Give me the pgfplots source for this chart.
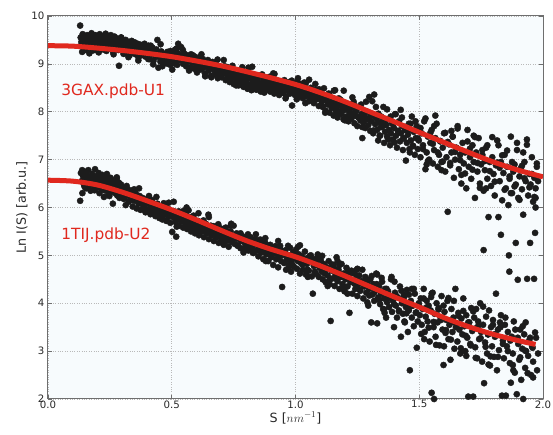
\documentclass[border=0pt]{standalone}
\usepackage{pgfplots}
\pgfplotsset{compat=1.18}
\usepackage{pgfplotstable}
\usepackage{fontspec}
\setmainfont{DejaVu Sans}
\definecolor{fitred}{RGB}{224,40,30}
\definecolor{dotc}{RGB}{28,28,28}
\definecolor{bgc}{RGB}{247,251,253}
\definecolor{gridc}{RGB}{185,185,185}
\definecolor{framec}{RGB}{110,110,110}
\definecolor{textc}{RGB}{40,40,40}

\pgfplotstableread{
x y
0.130 9.80
0.132 9.55
0.135 9.40
0.138 9.25
0.140 9.62
0.143 9.48
0.146 9.33
0.149 9.57
0.152 9.44
0.155 9.30
0.158 9.60
0.161 9.50
0.164 9.36
0.167 9.22
0.170 9.55
0.173 9.45
0.176 9.64
0.179 9.38
0.182 9.28
0.185 9.52
0.188 9.42
0.191 9.60
0.194 9.33
0.197 9.47
0.200 9.56
0.203 9.26
0.206 9.40
0.209 9.62
0.212 9.50
0.215 9.35
0.218 9.44
0.221 9.58
0.224 9.30
0.227 9.52
0.230 9.41
0.233 9.63
0.236 9.27
0.239 9.48
0.242 9.37
0.245 9.55
0.248 9.45
0.251 9.32
0.254 9.60
0.257 9.42
0.260 9.50
0.263 9.25
0.266 9.38
0.269 9.57
0.272 9.46
0.275 9.34
0.278 9.53
0.281 9.42
0.284 9.29
0.287 8.96
0.290 9.48
0.293 9.38
0.296 9.55
0.299 9.31
0.302 9.45
0.306 9.36
0.310 9.22
0.314 9.50
0.318 9.40
0.322 9.30
0.326 9.44
0.330 9.18
0.334 9.35
0.338 9.48
0.342 9.27
0.346 9.38
0.350 9.45
0.354 9.20
0.358 9.33
0.362 9.42
0.366 9.13
0.370 9.30
0.374 9.40
0.378 9.22
0.382 9.36
0.386 9.28
0.390 9.42
0.394 9.15
0.398 9.32
0.402 9.25
0.406 9.38
0.410 9.10
0.414 9.28
0.418 9.20
0.422 9.34
0.426 9.06
0.430 9.24
0.434 9.14
0.438 9.30
0.442 9.50
0.446 8.92
0.450 9.18
0.454 9.05
0.458 9.26
0.462 8.95
0.466 9.12
0.470 9.20
0.474 9.02
0.478 9.15
0.482 9.25
0.486 9.08
0.490 9.18
0.494 8.98
0.498 9.12
0.502 8.88
0.506 9.22
0.510 9.05
0.514 9.30
0.518 9.12
0.522 8.98
0.526 9.42
0.530 9.18
0.534 9.08
0.538 9.35
0.542 9.15
0.546 9.00
0.550 9.22
0.554 9.10
0.558 8.95
0.562 9.18
0.566 9.05
0.570 9.12
0.574 8.92
0.578 9.20
0.582 9.02
0.586 9.10
0.590 8.90
0.594 9.15
0.598 9.00
0.602 8.82
0.606 9.08
0.610 8.96
0.614 9.14
0.618 8.88
0.622 9.02
0.626 9.10
0.630 8.93
0.634 8.80
0.638 9.05
0.642 8.95
0.646 9.08
0.650 8.86
0.654 8.98
0.658 8.75
0.662 9.02
0.666 8.90
0.670 8.96
0.674 8.78
0.678 9.00
0.682 8.88
0.686 8.70
0.690 8.95
0.694 8.84
0.698 8.92
0.702 8.72
0.706 8.90
0.710 8.80
0.714 8.95
0.718 8.66
0.722 8.86
0.726 8.76
0.730 8.90
0.734 8.62
0.738 8.80
0.742 8.70
0.746 8.86
0.750 8.58
0.754 8.76
0.758 8.82
0.762 8.66
0.766 8.74
0.770 8.55
0.774 8.80
0.778 8.68
0.782 8.60
0.786 8.75
0.790 8.52
0.794 8.66
0.798 8.72
0.802 8.60
0.806 8.48
0.810 8.70
0.814 8.56
0.818 8.78
0.822 8.45
0.826 8.62
0.830 8.52
0.834 8.72
0.838 8.58
0.842 8.46
0.846 8.66
0.850 8.55
0.854 8.75
0.858 8.44
0.862 8.60
0.866 8.50
0.870 8.68
0.874 8.40
0.878 8.56
0.882 8.64
0.886 8.47
0.890 8.58
0.894 8.70
0.898 8.42
0.902 8.55
0.906 8.62
0.910 8.48
0.914 8.38
0.918 8.58
0.922 8.66
0.926 8.45
0.930 8.52
0.934 8.35
0.938 8.60
0.942 8.48
0.946 8.56
0.950 8.40
0.954 8.64
0.958 8.50
0.962 8.32
0.966 8.55
0.970 8.44
0.974 8.62
0.978 8.38
0.982 8.50
0.986 8.13
0.990 8.45
0.994 8.58
0.998 8.35
1.002 8.48
1.006 8.62
1.010 8.30
1.014 8.42
1.018 8.55
1.022 8.36
1.026 8.46
1.030 8.28
1.034 8.52
1.038 8.40
1.042 8.60
1.046 8.33
1.050 8.45
1.054 8.22
1.058 8.38
1.062 8.50
1.066 8.30
1.070 8.42
1.074 8.18
1.078 8.36
1.082 8.46
1.086 8.26
1.090 8.40
1.094 8.12
1.098 8.32
1.102 8.40
1.106 8.22
1.110 8.10
1.114 8.34
1.118 8.25
1.122 8.02
1.126 8.30
1.130 8.15
1.134 8.38
1.138 7.98
1.142 8.20
1.146 8.08
1.150 8.28
1.154 7.92
1.158 8.16
1.162 8.05
1.166 8.22
1.170 7.88
1.174 8.12
1.178 8.00
1.182 8.25
1.186 7.95
1.190 8.10
1.194 7.84
1.198 8.04
1.202 8.18
1.206 7.90
1.210 8.06
1.214 7.80
1.218 8.00
1.222 8.14
1.226 7.86
1.230 7.96
1.234 8.08
1.238 7.76
1.242 7.92
1.246 8.02
1.250 7.70
1.254 7.88
1.258 8.10
1.262 7.82
1.266 7.95
1.270 7.45
1.274 7.78
1.278 7.90
1.282 7.66
1.286 7.84
1.290 8.00
1.294 7.72
1.298 8.31
1.302 7.60
1.306 7.80
1.310 7.92
1.314 7.55
1.318 8.36
1.322 7.74
1.326 7.86
1.330 7.62
1.334 7.40
1.338 7.78
1.342 7.50
1.346 7.90
1.350 7.68
1.354 7.80
1.358 7.35
1.362 7.58
1.366 7.72
1.370 7.48
1.374 7.85
1.378 7.62
1.382 7.30
1.386 7.55
1.390 7.75
1.394 7.42
1.398 7.66
1.402 7.95
1.406 7.50
1.410 7.25
1.414 7.60
1.418 7.80
1.422 7.38
1.426 7.55
1.430 7.70
1.434 7.20
1.438 7.45
1.442 7.62
1.446 6.98
1.450 7.35
1.454 7.52
1.458 7.75
1.462 7.15
1.466 7.40
1.470 7.90
1.474 7.28
1.478 7.58
1.482 7.10
1.486 7.45
1.490 7.68
1.494 7.22
1.498 7.40
1.505 7.05
1.510 7.55
1.515 7.30
1.520 7.80
1.525 6.80
1.530 7.15
1.535 7.48
1.540 7.00
1.545 7.35
1.550 7.62
1.555 6.92
1.560 7.20
1.565 7.45
1.570 7.75
1.575 6.85
1.580 7.10
1.585 7.38
1.590 6.95
1.595 7.25
1.600 7.55
1.605 6.75
1.610 7.05
1.615 5.91
1.620 7.32
1.625 6.88
1.630 7.15
1.635 7.48
1.640 6.62
1.645 7.00
1.650 7.25
1.655 7.70
1.660 6.80
1.665 7.10
1.670 6.50
1.675 7.35
1.680 6.92
1.685 7.15
1.690 6.40
1.695 7.62
1.700 6.85
1.705 7.05
1.710 6.60
1.715 7.30
1.720 6.95
1.725 6.20
1.730 7.15
1.735 6.75
1.740 7.45
1.745 6.50
1.750 6.90
1.755 7.10
1.760 6.35
1.765 6.78
1.770 7.25
1.775 6.60
1.780 5.80
1.785 6.95
1.790 6.45
1.795 7.05
1.800 6.70
1.805 6.25
1.810 6.88
1.815 7.40
1.820 5.80
1.825 6.55
1.830 6.95
1.835 6.15
1.840 6.72
1.845 7.10
1.850 6.40
1.855 6.85
1.860 6.05
1.865 6.60
1.870 7.48
1.875 6.30
1.880 6.75
1.885 6.90
1.890 6.48
1.895 7.35
1.900 6.20
1.905 6.65
1.910 6.82
1.915 6.38
1.920 5.85
1.925 6.95
1.930 6.55
1.935 7.42
1.940 6.25
1.945 6.70
1.950 6.48
1.955 7.05
1.960 6.12
1.965 6.62
1.970 6.40
1.975 6.85
1.980 6.55
1.970 6.00
0.135 9.46
0.145 9.28
0.155 9.52
0.165 9.39
0.175 9.62
0.185 9.34
0.195 9.43
0.205 9.24
0.215 9.54
0.225 9.47
0.235 9.32
0.245 9.58
0.255 9.38
0.265 9.20
0.275 9.50
0.285 9.42
0.295 9.55
0.305 9.21
0.315 9.48
0.325 9.14
0.335 9.29
0.345 9.24
0.355 9.34
0.365 9.07
0.375 9.38
0.385 9.18
0.395 9.29
0.405 9.10
0.415 9.38
0.425 8.99
0.435 9.25
0.445 9.16
0.455 9.41
0.465 9.08
0.475 9.19
0.485 9.00
0.495 9.27
0.505 9.18
0.515 9.00
0.525 9.22
0.535 9.10
0.545 9.29
0.555 9.03
0.565 9.10
0.575 8.91
0.585 9.18
0.595 9.11
0.605 8.88
0.615 9.11
0.625 8.92
0.635 8.74
0.645 9.01
0.655 8.93
0.665 9.04
0.675 8.85
0.685 9.09
0.695 8.77
0.705 8.90
0.715 8.85
0.725 8.93
0.735 8.68
0.745 8.96
0.755 8.77
0.765 8.86
0.775 8.68
0.785 8.93
0.795 8.57
0.805 8.81
0.815 8.71
0.825 8.94
0.835 8.63
0.845 8.72
0.855 8.54
0.865 8.78
0.875 8.70
0.885 8.52
0.895 8.73
0.905 8.60
0.915 8.79
0.925 8.52
0.935 8.59
0.945 8.40
0.955 8.66
0.965 8.59
0.975 8.43
0.985 8.65
0.995 8.46
1.005 8.26
1.015 8.59
1.025 8.48
1.035 8.61
1.045 8.37
1.055 8.67
1.065 8.26
1.075 8.42
1.085 8.36
1.095 8.47
1.105 8.15
1.115 8.49
1.125 8.24
1.135 8.36
1.145 8.13
1.155 8.44
1.165 7.99
1.175 8.28
1.185 8.15
1.195 8.44
1.205 8.05
1.215 8.15
1.225 7.93
1.235 8.21
1.245 8.11
1.255 7.88
1.265 8.15
1.275 7.97
1.285 8.21
1.295 7.87
1.305 7.96
1.315 7.61
1.325 8.10
1.335 7.96
1.345 7.68
1.355 8.10
1.365 7.74
1.375 7.42
1.385 7.90
1.395 7.75
1.405 7.95
1.415 7.60
1.425 8.04
1.435 7.44
1.445 7.68
1.455 7.60
1.465 7.75
1.475 7.29
1.485 7.80
1.495 7.44
1.505 7.66
1.515 7.22
1.525 7.86
1.535 6.97
1.545 7.56
1.555 7.33
1.565 7.92
1.575 7.15
1.585 7.39
1.595 6.96
1.605 7.56
1.615 7.37
1.625 6.93
1.635 7.48
1.645 7.16
1.655 7.65
1.665 6.99
1.675 7.18
1.685 6.71
1.695 7.38
1.705 7.23
1.715 6.79
1.725 7.47
1.735 6.93
1.745 6.41
1.755 7.20
1.765 6.97
1.775 7.30
1.785 6.76
1.795 7.47
1.805 6.54
1.815 6.94
1.825 6.83
1.835 7.09
1.845 6.37
1.855 7.19
1.865 6.65
1.875 6.95
1.885 6.44
1.895 7.20
1.905 6.16
1.915 6.87
1.925 6.61
1.935 7.31
1.945 6.42
1.955 6.70
1.965 6.22
1.975 6.92
0.52 9.32
0.57 8.86
0.62 9.20
0.66 8.72
0.71 9.08
0.76 8.55
0.81 8.92
0.86 8.42
0.91 8.80
0.96 8.28
1.01 8.70
1.04 8.18
1.08 8.58
1.12 7.98
1.16 8.45
1.20 7.82
1.23 8.30
1.27 7.68
1.31 8.22
1.34 7.50
1.37 8.05
1.40 7.36
1.43 7.88
1.46 7.22
1.49 7.70
1.53 6.90
1.56 7.70
1.59 6.78
1.63 7.60
1.67 6.68
1.72 7.50
1.77 6.40
1.82 7.30
1.87 6.30
1.92 7.15
1.97 6.20
}\upperdata

\pgfplotstableread{
x y
0.130 6.14
0.133 6.72
0.136 6.55
0.139 6.30
0.142 6.65
0.145 6.48
0.148 6.75
0.151 6.58
0.154 6.40
0.157 6.68
0.160 6.52
0.163 6.78
0.166 6.45
0.169 6.62
0.172 6.35
0.175 6.55
0.178 6.70
0.181 6.48
0.184 6.60
0.187 6.38
0.190 6.80
0.193 6.50
0.196 6.64
0.199 6.42
0.202 6.56
0.205 6.72
0.208 6.30
0.211 6.48
0.214 6.60
0.217 6.40
0.220 6.68
0.223 6.52
0.226 6.22
0.229 6.45
0.232 6.58
0.235 6.36
0.238 6.70
0.241 6.48
0.244 6.28
0.247 6.55
0.250 6.40
0.253 6.62
0.256 6.33
0.259 6.50
0.262 6.08
0.265 6.42
0.268 6.56
0.271 6.30
0.274 6.46
0.277 6.60
0.280 6.25
0.283 6.40
0.286 6.52
0.289 6.20
0.292 6.36
0.295 6.48
0.298 6.28
0.302 6.40
0.306 6.18
0.310 6.32
0.314 6.05
0.318 6.25
0.322 6.38
0.326 6.12
0.330 6.28
0.334 6.20
0.338 6.35
0.342 6.02
0.346 6.22
0.350 6.14
0.354 6.30
0.358 5.98
0.362 6.18
0.366 6.08
0.370 6.24
0.374 5.95
0.378 6.12
0.382 6.20
0.386 6.02
0.390 6.15
0.394 5.90
0.398 6.08
0.402 6.18
0.406 5.96
0.410 6.10
0.414 5.86
0.418 6.02
0.422 6.12
0.426 5.92
0.430 6.05
0.434 5.82
0.438 5.98
0.442 6.08
0.446 5.88
0.450 5.78
0.454 6.00
0.458 5.92
0.462 5.75
0.466 5.95
0.470 5.85
0.474 6.02
0.478 5.72
0.482 5.90
0.486 5.80
0.490 5.96
0.494 5.68
0.498 5.86
0.502 5.49
0.506 5.80
0.510 5.92
0.514 5.70
0.518 5.39
0.522 5.85
0.526 5.75
0.530 5.62
0.534 5.88
0.538 5.72
0.542 5.80
0.546 5.58
0.550 5.78
0.554 5.66
0.558 5.84
0.562 5.55
0.566 5.72
0.570 5.62
0.574 5.80
0.578 5.50
0.582 5.68
0.586 5.58
0.590 5.75
0.594 5.46
0.598 5.64
0.602 5.54
0.606 5.72
0.610 5.42
0.614 5.60
0.618 5.68
0.622 5.50
0.626 5.62
0.630 5.38
0.634 5.56
0.638 5.66
0.642 5.46
0.646 5.58
0.650 5.34
0.654 5.52
0.658 5.62
0.662 5.42
0.666 5.55
0.670 5.30
0.674 5.48
0.678 5.60
0.682 5.38
0.686 5.52
0.690 5.26
0.694 5.44
0.698 5.56
0.702 5.34
0.706 5.48
0.710 5.22
0.714 5.40
0.718 5.52
0.722 5.30
0.726 5.44
0.730 5.18
0.734 5.36
0.738 5.50
0.742 5.28
0.746 5.40
0.750 5.62
0.754 5.24
0.758 5.36
0.762 5.46
0.766 5.20
0.770 5.34
0.774 5.42
0.778 5.15
0.782 5.30
0.786 5.40
0.790 5.12
0.794 5.28
0.798 5.38
0.802 5.20
0.806 5.32
0.810 5.10
0.814 5.26
0.818 5.38
0.822 5.14
0.826 5.28
0.830 5.05
0.834 5.22
0.838 5.34
0.842 5.10
0.846 5.24
0.850 4.98
0.854 5.16
0.858 5.30
0.862 5.06
0.866 5.20
0.870 4.92
0.874 5.12
0.878 5.26
0.882 5.02
0.886 5.15
0.890 4.88
0.894 5.08
0.898 5.22
0.902 4.96
0.906 5.12
0.910 4.80
0.914 5.04
0.918 5.18
0.922 4.92
0.926 5.06
0.930 4.75
0.934 4.98
0.938 5.14
0.942 4.88
0.946 4.34
0.950 5.02
0.954 4.84
0.958 5.10
0.962 4.70
0.966 4.94
0.970 5.20
0.974 4.80
0.978 5.00
0.982 4.66
0.986 4.90
0.990 5.06
0.994 4.76
0.998 4.95
1.002 5.12
1.006 4.72
1.010 4.88
1.014 5.02
1.018 4.62
1.022 4.84
1.026 4.98
1.030 4.70
1.034 4.90
1.038 5.08
1.042 4.60
1.046 4.82
1.050 4.95
1.054 4.68
1.058 4.86
1.062 5.00
1.066 4.56
1.070 4.20
1.074 4.78
1.078 4.92
1.082 4.62
1.086 4.80
1.090 4.95
1.094 4.55
1.098 4.74
1.102 4.90
1.106 4.66
1.110 4.50
1.114 4.82
1.118 4.62
1.122 4.44
1.126 4.75
1.130 4.58
1.134 4.88
1.138 4.40
1.142 3.63
1.146 4.68
1.150 4.52
1.154 4.80
1.158 4.36
1.162 4.60
1.166 4.96
1.170 4.46
1.174 4.70
1.178 4.30
1.182 4.55
1.186 4.82
1.190 4.40
1.194 4.62
1.198 4.25
1.202 4.50
1.206 4.74
1.210 4.35
1.214 4.58
1.218 3.80
1.222 4.44
1.226 4.68
1.230 4.20
1.234 4.48
1.238 4.62
1.242 4.30
1.246 4.52
1.250 4.15
1.254 4.40
1.258 4.58
1.262 4.26
1.266 4.46
1.270 4.70
1.274 4.10
1.278 4.35
1.282 4.55
1.286 4.22
1.290 4.42
1.294 3.95
1.298 4.30
1.302 4.50
1.306 3.60
1.310 4.18
1.314 4.40
1.318 4.05
1.322 4.26
1.326 4.62
1.330 3.58
1.334 4.12
1.338 4.35
1.342 3.98
1.346 4.20
1.350 4.45
1.354 3.88
1.358 4.10
1.362 4.30
1.366 3.70
1.370 4.02
1.374 4.25
1.378 3.92
1.382 4.15
1.386 4.50
1.390 3.82
1.394 4.05
1.398 3.50
1.402 4.22
1.406 3.95
1.410 3.70
1.414 4.12
1.418 3.85
1.422 4.35
1.426 3.30
1.430 4.00
1.434 3.78
1.438 4.18
1.442 3.60
1.446 3.92
1.450 4.28
1.454 3.40
1.458 3.85
1.462 2.60
1.466 4.05
1.470 3.70
1.474 3.95
1.478 3.52
1.482 4.20
1.486 3.80
1.490 3.07
1.494 3.62
1.498 4.00
1.502 3.75
1.506 4.10
1.510 3.55
1.514 3.88
1.518 4.30
1.522 3.40
1.526 3.72
1.530 4.05
1.534 3.62
1.538 3.95
1.542 3.20
1.546 3.85
1.550 2.13
1.554 4.22
1.558 3.50
1.560 2.00
1.562 3.78
1.566 3.30
1.570 4.00
1.574 3.60
1.578 3.90
1.582 3.12
1.586 3.70
1.590 4.15
1.594 3.45
1.598 2.71
1.602 3.82
1.606 3.38
1.610 3.65
1.614 4.05
1.618 3.25
1.622 3.55
1.626 2.82
1.630 3.88
1.634 3.40
1.638 3.70
1.642 3.05
1.646 4.30
1.650 3.58
1.654 3.20
1.658 3.80
1.662 3.45
1.666 2.95
1.670 3.68
1.674 3.35
1.678 4.10
1.682 3.52
1.686 3.00
1.690 3.75
1.694 3.28
1.698 2.05
1.702 3.60
1.706 3.15
1.710 3.90
1.714 3.42
1.718 2.05
1.722 3.70
1.726 3.08
1.730 3.48
1.734 2.85
1.738 3.62
1.742 3.25
1.746 4.00
1.750 3.40
1.754 2.78
1.758 3.55
1.760 5.11
1.762 2.33
1.766 3.18
1.770 3.72
1.774 2.95
1.778 3.35
1.782 3.85
1.786 2.70
1.790 3.50
1.794 3.10
1.798 3.65
1.802 2.88
1.806 3.30
1.810 4.20
1.814 2.60
1.818 3.45
1.822 3.02
1.826 3.60
1.830 5.43
1.834 2.07
1.838 3.22
1.842 2.85
1.846 3.55
1.850 2.07
1.854 3.10
1.858 3.40
1.862 5.00
1.864 4.66
1.866 2.75
1.870 2.34
1.874 3.30
1.878 2.95
1.882 3.62
1.886 2.55
1.890 5.26
1.894 2.10
1.898 4.49
1.900 3.15
1.904 2.82
1.908 3.45
1.912 2.40
1.916 3.05
1.920 2.00
1.924 3.35
1.928 2.65
1.932 3.00
1.936 4.51
1.940 2.90
1.944 3.22
1.948 5.26
1.952 2.50
1.956 3.10
1.960 2.78
1.964 4.51
1.968 5.47
1.972 3.28
1.976 2.60
1.980 2.95
0.138 6.78
0.148 6.43
0.158 6.58
0.168 6.53
0.178 6.63
0.188 6.36
0.198 6.66
0.208 6.46
0.218 6.56
0.228 6.36
0.238 6.63
0.248 6.24
0.258 6.49
0.268 6.39
0.278 6.63
0.288 6.30
0.298 6.39
0.308 6.20
0.318 6.45
0.328 6.36
0.338 6.16
0.348 6.38
0.358 6.19
0.368 6.40
0.378 6.10
0.388 6.17
0.398 5.96
0.408 6.24
0.418 6.16
0.428 5.98
0.438 6.22
0.448 6.01
0.458 5.81
0.468 6.09
0.478 5.99
0.488 6.10
0.498 5.89
0.508 6.12
0.518 5.79
0.528 5.92
0.538 5.86
0.548 5.93
0.558 5.67
0.568 5.94
0.578 5.74
0.588 5.83
0.598 5.64
0.608 5.88
0.618 5.51
0.628 5.73
0.638 5.63
0.648 5.85
0.658 5.53
0.668 5.61
0.678 5.42
0.688 5.65
0.698 5.56
0.708 5.37
0.718 5.58
0.728 5.44
0.738 5.62
0.748 5.35
0.758 5.41
0.768 5.21
0.778 5.46
0.788 5.38
0.798 5.22
0.808 5.44
0.818 5.24
0.828 5.06
0.838 5.31
0.848 5.22
0.858 5.33
0.868 5.13
0.878 5.36
0.888 5.03
0.898 5.16
0.908 5.10
0.918 5.19
0.928 4.93
0.938 5.20
0.948 5.01
0.958 5.10
0.968 4.91
0.978 5.16
0.988 4.80
0.998 5.03
1.008 4.92
1.018 5.21
1.028 4.81
1.038 4.92
1.048 4.70
1.058 4.99
1.068 4.89
1.078 4.66
1.088 4.92
1.098 4.75
1.108 4.99
1.118 4.65
1.128 4.74
1.138 4.49
1.148 4.81
1.158 4.72
1.168 4.52
1.178 4.80
1.188 4.55
1.198 4.32
1.208 4.64
1.218 4.53
1.228 4.66
1.238 4.41
1.248 4.70
1.258 4.29
1.268 4.45
1.278 4.38
1.288 4.48
1.298 4.16
1.308 4.57
1.318 4.22
1.328 4.40
1.338 4.07
1.348 4.53
1.358 3.87
1.368 4.30
1.378 4.12
1.388 4.55
1.398 3.98
1.408 4.15
1.418 3.83
1.428 4.26
1.438 4.12
1.448 3.79
1.458 4.18
1.468 3.94
1.478 4.30
1.488 3.81
1.498 3.95
1.508 3.36
1.518 4.10
1.528 3.91
1.538 3.49
1.548 4.13
1.558 3.61
1.568 3.13
1.578 3.87
1.588 3.65
1.598 3.95
1.608 3.44
1.618 4.11
1.628 3.24
1.638 3.61
1.648 3.50
1.658 3.74
1.668 3.06
1.678 3.84
1.688 3.32
1.698 3.60
1.708 3.12
1.718 3.83
1.728 2.86
1.738 3.52
1.748 3.27
1.758 3.93
1.768 3.09
1.778 3.35
1.788 2.89
1.798 3.55
1.808 3.36
1.818 2.88
1.828 3.50
1.838 3.15
1.848 3.70
1.858 3.00
1.868 3.22
1.878 2.71
1.888 3.45
1.898 3.28
1.908 2.87
1.918 3.52
1.928 3.01
1.938 2.54
1.948 3.28
1.958 3.07
1.968 3.39
0.52 5.60
0.56 6.00
0.61 5.48
0.65 5.80
0.70 5.28
0.74 5.66
0.79 5.06
0.84 5.44
0.88 4.88
0.93 5.30
0.97 4.72
1.01 5.18
1.05 4.55
1.09 5.02
1.13 4.36
1.17 4.88
1.21 4.20
1.25 4.72
1.29 4.02
1.33 4.60
1.36 3.80
1.40 4.45
1.44 3.62
1.47 4.30
1.52 3.25
1.55 4.20
1.60 3.10
1.64 4.05
1.69 2.90
1.73 3.88
1.78 2.72
1.83 3.75
1.88 2.60
1.93 3.60
1.96 2.45
}\lowerdata

\begin{document}
\begin{tikzpicture}
\begin{axis}[
  at={(0,0)}, anchor=south west,
  scale only axis,
  width=495pt, height=383pt,
  xmin=0, xmax=2, ymin=2, ymax=10,
  xtick={0,0.5,1,1.5,2},
  ytick={2,3,4,5,6,7,8,9,10},
  tick align=inside,
  major tick length=4pt,
  xtick pos=both, ytick pos=both,
  axis line style={framec, line width=1pt},
  tick style={framec, line width=0.6pt},
  axis background/.style={fill=bgc},
  grid=major,
  major grid style={gridc, dotted, line width=0.7pt},
  /pgf/number format/assume math mode=true,
  x tick label style={/pgf/number format/fixed, /pgf/number format/fixed zerofill, /pgf/number format/precision=1, yshift=2pt},
  ticklabel style={font=\fontsize{10.2}{12}\selectfont, text=textc},
  label style={font=\fontsize{12.7}{15}\selectfont, text=textc},
  xlabel={S [$nm^{-1}$]},
  ylabel={Ln I(S) [arb.u.]},
  xlabel style={yshift=3pt},
  ylabel style={yshift=-3pt},
  clip mode=individual,
]
\addplot[only marks, mark=*, mark size=3.1pt, color=dotc, mark options={fill=dotc, draw=dotc}] table[x=x,y=y] {\upperdata};
\addplot[only marks, mark=*, mark size=3.1pt, color=dotc, mark options={fill=dotc, draw=dotc}] table[x=x,y=y] {\lowerdata};
\addplot[fitred, line width=5pt, smooth] coordinates {
(0,9.38)(0.1,9.37)(0.2,9.33)(0.3,9.28)(0.4,9.22)(0.5,9.15)(0.6,9.06)(0.7,8.96)(0.8,8.84)(0.9,8.71)(1.0,8.57)(1.1,8.40)(1.2,8.21)(1.3,8.00)(1.4,7.79)(1.5,7.57)(1.6,7.36)(1.7,7.15)(1.8,6.95)(1.9,6.78)(2.0,6.64)
};
\addplot[fitred, line width=5pt, smooth] coordinates {
(0,6.57)(0.1,6.55)(0.2,6.47)(0.3,6.32)(0.4,6.14)(0.5,5.95)(0.6,5.74)(0.7,5.52)(0.8,5.31)(0.9,5.13)(1.0,4.97)(1.1,4.78)(1.2,4.57)(1.3,4.35)(1.4,4.13)(1.5,3.92)(1.6,3.70)(1.7,3.51)(1.8,3.35)(1.9,3.22)(1.97,3.14)
};
\node[anchor=west, text=fitred, font=\fontsize{15.4}{18}\selectfont, inner sep=0pt] at (axis cs:0.053,8.42) {3GAX.pdb-U1};
\node[anchor=west, text=fitred, font=\fontsize{15.4}{18}\selectfont, inner sep=0pt] at (axis cs:0.053,5.41) {1TIJ.pdb-U2};
\end{axis}
\pgfresetboundingbox
\useasboundingbox (-48pt,-36pt) rectangle (505pt,399pt);
\end{tikzpicture}
\end{document}
